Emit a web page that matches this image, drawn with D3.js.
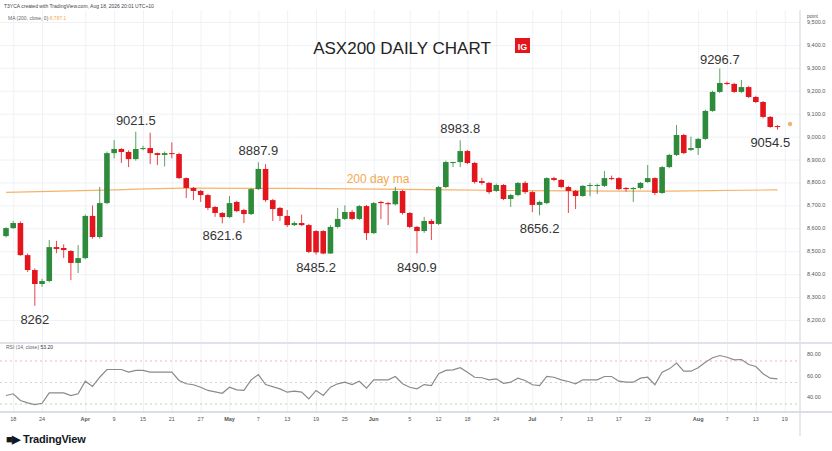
<!DOCTYPE html>
<html><head><meta charset="utf-8">
<script src="https://cdn.jsdelivr.net/npm/d3@7"></script>
<style>
body{margin:0;background:#fff;font-family:"Liberation Sans",Arial,sans-serif}
.grid line{stroke:#eef1f6}
.grid path{display:none}
</style></head>
<body><svg id="c" width="832" height="451"></svg>
<script>
// daily candles [open, high, low, close]
var candles = [
[8566,8605,8560,8601],[8601,8632,8597,8623],[8623,8630,8480,8483],[8483,8490,8410,8418],[8418,8425,8262,8357],
[8357,8380,8345,8370],[8370,8549,8365,8518],[8518,8545,8492,8510],[8514,8530,8470,8505],[8501,8505,8374,8449],
[8449,8527,8405,8470],[8470,8660,8465,8654],[8654,8700,8555,8562],[8562,8780,8555,8710],[8710,8935,8705,8928],
[8928,8985,8905,8946],[8946,8950,8885,8933],[8933,8940,8867,8902],[8902,9021.5,8895,8946],[8946,8960,8940,8950],
[8950,9017,8880,8928],[8928,8930,8876,8920],[8920,8935,8870,8928],[8928,8975,8905,8924],[8924,8930,8815,8819],
[8819,8822,8732,8776],[8776,8780,8723,8763],[8763,8767,8715,8745],[8745,8750,8680,8689],[8693,8697,8650,8667],
[8667,8671,8621.6,8649],[8649,8741,8645,8710],[8715,8720,8670,8675],[8680,8685,8623,8662],[8662,8775,8658,8771],
[8771,8887.9,8767,8859],[8859,8880,8715,8723],[8723,8728,8632,8684],[8689,8693,8632,8654],[8654,8680,8606,8614],
[8614,8630,8610,8623],[8623,8660,8610,8614],[8614,8619,8492,8497],[8588,8592,8485.2,8495],[8588,8592,8487,8490],
[8490,8614,8488,8606],[8606,8689,8600,8641],[8641,8700,8636,8671],[8671,8680,8636,8641],[8641,8702,8636,8697],
[8697,8702,8549,8579],[8579,8715,8575,8710],[8715,8720,8640,8710],[8710,8715,8614,8705],[8705,8780,8700,8763],
[8763,8767,8660,8667],[8667,8671,8600,8606],[8606,8610,8490.9,8588],[8588,8650,8580,8632],[8632,8640,8549,8619],
[8619,8785,8614,8780],[8780,8895,8775,8889],[8885,8890,8867,8889],[8889,8983.8,8867,8937],[8937,8942,8880,8885],
[8885,8890,8795,8802],[8806,8820,8790,8798],[8798,8802,8750,8758],[8763,8795,8758,8789],[8789,8793,8723,8728],
[8728,8750,8693,8745],[8745,8802,8740,8798],[8798,8806,8750,8758],[8758,8763,8670,8702],[8702,8720,8656.2,8715],
[8710,8823,8705,8819],[8819,8825,8806,8811],[8811,8815,8775,8780],[8780,8785,8667,8763],[8763,8767,8684,8741],
[8741,8789,8737,8785],[8785,8798,8740,8789],[8785,8795,8750,8789],[8785,8850,8780,8819],[8819,8830,8810,8815],
[8819,8823,8767,8771],[8776,8780,8760,8771],[8771,8780,8715,8776],[8776,8802,8770,8798],[8802,8876,8798,8819],
[8819,8823,8745,8754],[8754,8872,8750,8867],[8867,8925,8862,8920],[8920,9051,8915,9007],[9007,9012,8924,8928],
[8942,9000,8937,8950],[8950,8995,8920,8990],[8990,9117,8985,9112],[9112,9200,9108,9195],[9195,9296.7,9190,9234],
[9234,9240,9225,9230],[9230,9235,9190,9195],[9195,9247,9190,9216],[9216,9220,9168,9173],[9173,9178,9146,9151],
[9151,9155,9080,9086],[9086,9090,9038,9042],[9046,9050,9030,9042]
];
// 200 day moving average, sampled [bar index, value]
var ma200 = [[0,8757],[15,8768],[25,8775],[40,8774],[55,8770],[70,8765],[85,8762],[95,8763],[107,8768]];
// RSI(14) [bar index, value]
var rsi = [[0,37.9],[1,39.5],[2,33.3],[3,31.1],[4,29.5],[5,30.7],[6,40.4],[8,40.4],[9,37.9],[10,39.5],[11,51.2],[12,46.3],
[13,54.9],[14,62.1],[16,62.1],[17,59.6],[18,61.2],[19,61.2],[20,59.6],[23,59.6],[24,51.9],[25,48.8],[26,47.9],[27,45.6],
[28,42.6],[30,40.0],[31,45.6],[32,43.2],[33,42.6],[34,52.5],[35,57.4],[36,48.1],[38,44.1],[39,41.0],[40,41.9],[41,41.0],
[42,34.8],[43,42.6],[44,37.9],[45,45.6],[46,48.8],[47,50.3],[48,48.1],[49,51.2],[50,44.7],[51,52.5],[53,52.5],[54,55.6],
[55,48.8],[56,45.6],[57,44.1],[58,48.1],[59,47.2],[60,58.1],[61,61.2],[62,61.8],[63,63.7],[64,59.6],[65,54.9],[66,54.4],
[67,52.5],[68,53.4],[69,49.3],[70,50.3],[71,54.0],[72,51.9],[73,47.9],[74,47.2],[75,55.6],[76,54.9],[77,52.5],[78,50.9],
[79,48.8],[80,52.5],[82,52.5],[83,55.6],[84,55.6],[85,51.2],[86,50.3],[87,50.3],[88,54.0],[89,54.9],[90,47.9],[91,59.6],
[92,62.7],[93,68.0],[94,60.5],[95,60.5],[96,63.7],[97,68.9],[98,73.0],[99,75.1],[100,73.5],[101,71.1],[102,71.4],
[103,66.7],[104,64.9],[105,58.1],[106,54.0],[107,53.4]];
// date axis tick labels [bar index, label]
var dateTicks = [[1,"18"],[5,"24"],[11,"Apr"],[15,"9"],[19,"15"],[23,"21"],[27,"27"],[31,"May"],[35,"7"],[39,"13"],
[43,"19"],[47,"25"],[51,"Jun"],[56,"5"],[60,"12"],[64,"18"],[68,"24"],[73,"Jul"],[77,"7"],[81,"13"],[85,"17"],
[89,"23"],[96,"Aug"],[100,"7"],[104,"13"],[108,"19"]];
var priceTicks = [8200,8300,8400,8500,8600,8700,8800,8900,9000,9100,9200,9300,9400,9500];
var rsiTicks = [40,60,80];
var rsiBands = [[70,"#f2a0a0"],[50,"#c8c8c8"],[30,"#9bd3a0"]];
// price annotations [bar index, value, label text, dy]
var notes = [[4,8262,"8262",18],[18,9021.5,"9021.5",-7],[35,8887.9,"8887.9",-7],[30,8621.6,"8621.6",17],
[43,8485.2,"8485.2",17],[57,8490.9,"8490.9",19],[63,8983.8,"8983.8",-7],[74,8656.2,"8656.2",18],
[99,9296.7,"9296.7",-5],[106,9054.5,"9054.5",23]];

var svg = d3.select("#c");
var plotRight = 800;

var x = d3.scaleLinear().domain([0, 1]).range([6, 13.21]);
var y = d3.scaleLinear().domain([8200, 9500]).range([320, 22]);
var yr = d3.scaleLinear().domain([30, 70]).range([404, 361]);

// grids
svg.append("g").attr("class", "grid")
    .call(d3.axisLeft(y).tickValues(priceTicks).tickSize(-plotRight).tickFormat(""));
svg.append("g").attr("class", "grid")
    .attr("transform", "translate(0,412)")
    .call(d3.axisBottom(x).tickValues(dateTicks.map(function(d) { return d[0]; }))
        .tickSize(-402).tickFormat(""));

// right axis line and pane separators
svg.append("line").attr("x1", plotRight).attr("x2", plotRight).attr("y1", 10).attr("y2", 436).attr("stroke", "#cfd3db");
svg.append("line").attr("x1", 0).attr("x2", 832).attr("y1", 343).attr("y2", 343).attr("stroke", "#dfe2e8").attr("stroke-width", 2);
svg.append("line").attr("x1", 0).attr("x2", 832).attr("y1", 412).attr("y2", 412).attr("stroke", "#cfd3db").attr("stroke-width", 1.5);

// price labels
svg.selectAll(".pl").data(priceTicks).enter().append("text")
    .attr("x", 807).attr("y", function(d) { return y(d) + 2; })
    .attr("font-size", "5.5px").attr("fill", "#555")
    .text(function(d) { return d3.format(",.1f")(d); });
svg.append("text").attr("x", 807).attr("y", 18).attr("font-size", "5px").attr("fill", "#555").text("point");

// MA line
svg.append("path").datum(ma200)
    .attr("fill", "none").attr("stroke", "#f6b26b").attr("stroke-width", 1.2)
    .attr("d", d3.line().curve(d3.curveMonotoneX).x(function(d) { return x(d[0]); }).y(function(d) { return y(d[1]); }));

// candles
var g = svg.append("g");
candles.forEach(function(c, i) {
    var col = c[3] >= c[0] ? "#2e8b3c" : "#e3151d";
    g.append("line").attr("x1", x(i)).attr("x2", x(i)).attr("y1", y(c[1])).attr("y2", y(c[2]))
        .attr("stroke", col).attr("stroke-width", 0.8);
    g.append("rect").attr("x", x(i) - 2.8).attr("width", 5.6)
        .attr("y", y(Math.max(c[0], c[3])))
        .attr("height", Math.max(1, Math.abs(y(c[0]) - y(c[3]))))
        .attr("fill", col);
});
// last price marker
svg.append("circle").attr("cx", 790).attr("cy", y(candles[candles.length - 1][3]) - 3).attr("r", 2.2).attr("fill", "#f6b26b");

// annotations
svg.selectAll(".note").data(notes).enter().append("text")
    .attr("x", function(d) { return x(d[0]); })
    .attr("y", function(d) { return y(d[1]) + d[3]; })
    .attr("text-anchor", "middle").attr("font-size", "13px").attr("fill", "#333")
    .text(function(d) { return d[2]; });
svg.append("text").attr("x", 378).attr("y", 183).attr("text-anchor", "middle")
    .attr("font-size", "12px").attr("fill", "#f4a950").text("200 day ma");

// title + IG logo
svg.append("text").attr("x", 402).attr("y", 54).attr("text-anchor", "middle")
    .attr("font-size", "17px").attr("fill", "#222").text("ASX200 DAILY CHART");
svg.append("rect").attr("x", 515).attr("y", 38).attr("width", 15).attr("height", 15).attr("fill", "#e3151d");
svg.append("text").attr("x", 522.5).attr("y", 49.5).attr("text-anchor", "middle")
    .attr("font-size", "9px").attr("font-weight", "bold").attr("fill", "#fff").text("IG");

// headers
svg.append("text").attr("x", 4).attr("y", 8).attr("font-size", "5px").attr("fill", "#444")
    .text("T3YCA created with TradingView.com, Aug 18, 2026 20:01 UTC+10");
var mh = svg.append("text").attr("x", 8).attr("y", 20).attr("font-size", "5px").attr("fill", "#666");
mh.append("tspan").text("MA (200, close, 0) ");
mh.append("tspan").attr("fill", "#f4a950").text("8,787.1");
var rh = svg.append("text").attr("x", 6).attr("y", 349).attr("font-size", "5px").attr("fill", "#666");
rh.append("tspan").text("RSI (14, close) ");
rh.append("tspan").attr("fill", "#333").text("53.20");

// RSI pane
rsiBands.forEach(function(b) {
    svg.append("line").attr("x1", 0).attr("x2", plotRight).attr("y1", yr(b[0])).attr("y2", yr(b[0]))
        .attr("stroke", b[1]).attr("stroke-dasharray", "2,3").attr("stroke-width", 0.8);
});
svg.append("path").datum(rsi)
    .attr("fill", "none").attr("stroke", "#8a8a8a").attr("stroke-width", 1.2)
    .attr("d", d3.line().x(function(d) { return x(d[0]); }).y(function(d) { return yr(d[1]); }));
svg.selectAll(".rl").data(rsiTicks).enter().append("text")
    .attr("x", 807).attr("y", function(d) { return yr(d) + 6; })
    .attr("font-size", "5.5px").attr("fill", "#555")
    .text(function(d) { return d.toFixed(2); });

// date labels
svg.selectAll(".dl").data(dateTicks).enter().append("text")
    .attr("x", function(d) { return x(d[0]); }).attr("y", 421)
    .attr("text-anchor", "middle").attr("font-size", "5.5px").attr("fill", "#555")
    .attr("font-weight", function(d) { return isNaN(+d[1]) ? "bold" : "normal"; })
    .text(function(d) { return d[1]; });

// TradingView logo
svg.append("text").attr("x", 6).attr("y", 443).attr("font-size", "11px").attr("font-weight", "bold")
    .attr("fill", "#131722").text("\u25A0\u25B6 TradingView").style("letter-spacing", "-0.2px");
</script>
</body></html>
